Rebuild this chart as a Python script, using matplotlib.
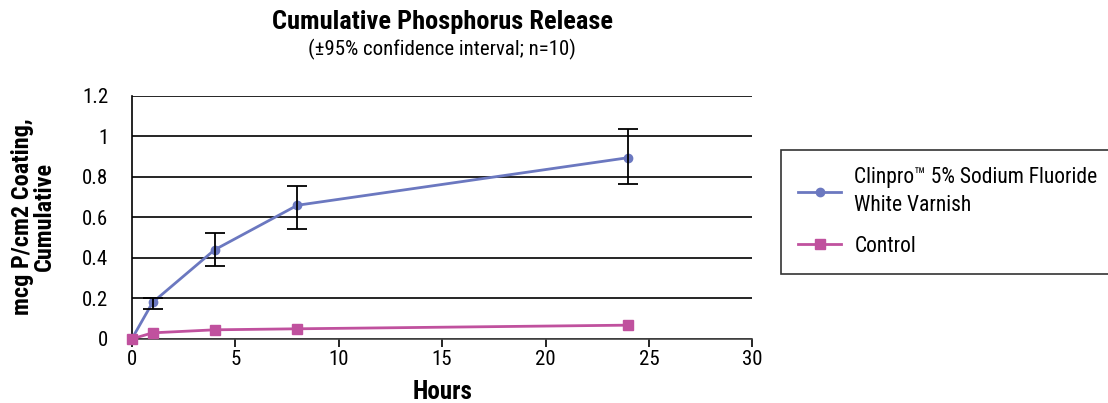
import numpy as np
import matplotlib
matplotlib.use('Agg')
import matplotlib.pyplot as plt

plt.rcParams['font.family'] = ['Liberation Sans Narrow', 'Roboto Condensed', 'DejaVu Sans']
plt.rcParams['font.stretch'] = 'condensed'

# data
hours = [0, 1, 4, 8, 24]
clinpro = [0, 0.18, 0.44, 0.66, 0.895]
clinpro_err_lo = [0, 0.03, 0.08, 0.115, 0.13]
clinpro_err_hi = [0, 0.02, 0.085, 0.095, 0.14]
control = [0, 0.03, 0.045, 0.05, 0.068]

blue = '#6b78c0'
pink = '#c0519e'

fig = plt.figure(figsize=(11.08, 4.03), dpi=100)
ax = fig.add_axes([0.119, 0.159, 0.56, 0.603])

ax.plot(hours, clinpro, color=blue, marker='o', markersize=6, linewidth=2,
        label='Clinpro\u2122 5% Sodium Fluoride\nWhite Varnish', zorder=3)
ax.errorbar(hours[1:], clinpro[1:], yerr=[clinpro_err_lo[1:], clinpro_err_hi[1:]],
            fmt='none', ecolor='black', elinewidth=1.3, capsize=7, capthick=1.3, zorder=4)
ax.plot(hours, control, color=pink, marker='s', markersize=7, linewidth=2,
        label='Control', zorder=3)

ax.set_xlim(0, 30)
ax.set_ylim(0, 1.2)
ax.set_xticks([0, 5, 10, 15, 20, 25, 30])
ax.set_yticks([0, 0.2, 0.4, 0.6, 0.8, 1, 1.2])
ax.set_yticklabels(['0', '0.2', '0.4', '0.6', '0.8', '1', '1.2'])
ax.yaxis.grid(True, color='black', linewidth=1.2)
ax.set_axisbelow(True)
for s in ['top', 'right']:
    ax.spines[s].set_visible(False)
ax.spines['left'].set_linewidth(1.2)
ax.spines['bottom'].set_linewidth(1.2)
ax.spines['bottom'].set_color('#444444')
ax.tick_params(axis='y', length=0, pad=17, labelsize=15)
ax.tick_params(axis='x', length=6, width=1.2, direction='out', labelsize=15, pad=2)
for line in ax.lines:
    line.set_clip_on(False)

ax.set_xlabel('Hours', fontsize=18, fontweight='bold')
ax.xaxis.set_label_coords(0.5, -0.17)
ax.set_ylabel('mcg P/cm2 Coating,\nCumulative', fontsize=17.5, fontweight='bold',
              linespacing=0.95)
ax.yaxis.set_label_coords(-0.122, 0.505)

fig.text(0.399, 0.945, 'Cumulative Phosphorus Release', ha='center', va='center',
         fontsize=19, fontweight='bold')
fig.text(0.399, 0.878, '(\u00b195% confidence interval; n=10)', ha='center', va='center',
         fontsize=15)

leg = fig.legend(loc='upper left', bbox_to_anchor=(0.705, 0.628), fontsize=15.5,
                 frameon=True, fancybox=False, edgecolor='black', borderpad=0.8,
                 handlelength=2.0, handletextpad=0.6, labelspacing=0.9, borderaxespad=0)
leg.get_frame().set_linewidth(1.2)
for t in leg.get_texts():
    t.set_linespacing(1.45)

plt.savefig('out.png', dpi=100)
plt.close()
